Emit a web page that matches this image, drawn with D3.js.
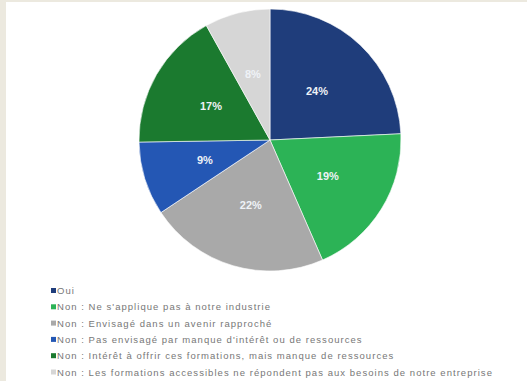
<!DOCTYPE html>
<html><head><meta charset="utf-8">
<script src="https://cdn.jsdelivr.net/npm/d3@7"></script>
<style>html,body{margin:0;padding:0;background:#ece9df;}svg{display:block;}</style>
</head><body>
<svg id="c" width="527" height="381"></svg>
<script>
const categories = [
  "Oui",
  "Non : Ne s'applique pas à notre industrie",
  "Non : Envisagé dans un avenir rapproché",
  "Non : Pas envisagé par manque d'intérêt ou de ressources",
  "Non : Intérêt à offrir ces formations, mais manque de ressources",
  "Non : Les formations accessibles ne répondent pas aux besoins de notre entreprise"
];
const values = [24, 19, 22, 9, 17, 8];
const colors = ["#1f3d7b", "#2cb356", "#a9a9a9", "#2457b4", "#1b7a2f", "#d6d6d6"];

const svg = d3.select("#c");
svg.append("rect").attr("x", 6).attr("y", 2).attr("width", 521).attr("height", 379).attr("fill", "#ffffff");

const cx = 270, cy = 140, R = 131;
const data = categories.map((c, i) => ({cat: c, value: values[i], color: colors[i]}));
const pie = d3.pie().value(d => d.value).sort(null).startAngle(0).endAngle(2 * Math.PI);
const arc = d3.arc().innerRadius(0).outerRadius(R);
const labelArc = d3.arc().innerRadius(R * 0.52).outerRadius(R * 0.52);
const g = svg.append("g").attr("transform", `translate(${cx},${cy})`);
const arcs = pie(data);
g.selectAll("path").data(arcs).join("path")
  .attr("d", arc).attr("fill", d => d.data.color)
  .attr("stroke", "#ffffff").attr("stroke-width", 0.6);
g.selectAll("text").data(arcs).join("text")
  .attr("transform", d => `translate(${labelArc.centroid(d)})`)
  .attr("text-anchor", "middle").attr("dominant-baseline", "central")
  .attr("font-family", "Liberation Sans, Arial, sans-serif")
  .attr("font-weight", "bold").attr("font-size", 11)
  .attr("fill", "#eef2f7")
  .text(d => d.data.value + "%");

const lg = svg.append("g");
const y0 = 290.5, dy = 16.3;
const rows = lg.selectAll("g").data(data).join("g")
  .attr("transform", (d, i) => `translate(51,${y0 + i * dy})`);
rows.append("rect").attr("x", 0).attr("y", -2.5).attr("width", 5).attr("height", 5).attr("fill", d => d.color);
const texts = rows.append("text").attr("x", 6).attr("y", 0)
  .attr("dominant-baseline", "central")
  .attr("font-family", "Liberation Sans, Arial, sans-serif")
  .attr("font-size", 9.5).attr("fill", "#777777")
  .text(d => d.cat);
// letter spacing so the longest legend line spans like the reference
const last = texts.nodes()[5];
const w = last.getComputedTextLength();
const n = categories[5].length;
texts.attr("letter-spacing", Math.max(0, (436 - w) / n));
</script>
</body></html>
